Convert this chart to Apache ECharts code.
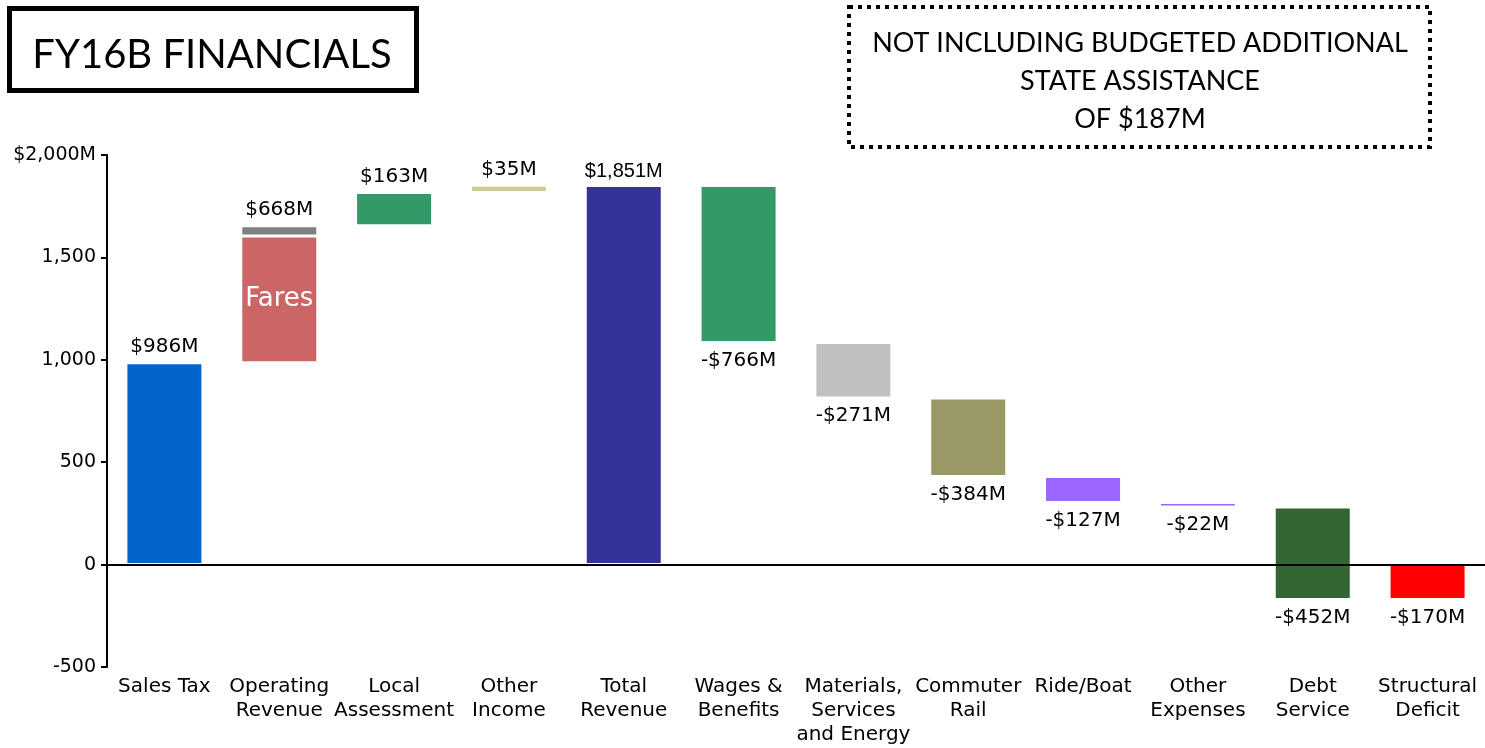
<!DOCTYPE html>
<html>
<head>
<meta charset="utf-8">
<script src="https://cdn.jsdelivr.net/npm/echarts@6/dist/echarts.min.js"></script>
<style>
  html, body { margin: 0; padding: 0; background: #fff; }
  #chart { width: 1485px; height: 748px; }
</style>
</head>
<body>
<div id="chart"></div>
<script>
// FY16B budget walk: revenue sources build up to the total, expenses step down to the deficit.
const categories = [
  'Sales Tax', 'Operating\nRevenue', 'Local\nAssessment', 'Other\nIncome', 'Total\nRevenue',
  'Wages &\nBenefits', 'Materials,\nServices\nand Energy', 'Commuter\nRail', 'Ride/Boat',
  'Other\nExpenses', 'Debt\nService', 'Structural\nDeficit'
];
const changes = [986, 668, 163, 35, 1851, -766, -271, -384, -127, -22, -452, -170];
const isTotal = [false, false, false, false, true, false, false, false, false, false, false, true];
const faresPart = 618;           // fares share of operating revenue ($M)
const valueLabels = [
  '$986M', '$668M', '$163M', '$35M', '$1,851M', '-$766M', '-$271M', '-$384M',
  '-$127M', '-$22M', '-$452M', '-$170M'
];
const barColors = [
  '#0066CC', '#CC6666', '#339966', '#CCCC99', '#333399', '#339966',
  '#C0C0C0', '#999966', '#9966FF', '#9966FF', '#336633', '#FF0000'
];
const otherOperatingColor = '#808080';
const yTicks = [-500, 0, 500, 1000, 1500, 2000];
const yTickLabels = ['-500', '0', '500', '1,000', '1,500', '$2,000M'];

// Floating bar ranges from the running total
let running = 0;
const lows = [], highs = [];
changes.forEach((c, i) => {
  const start = isTotal[i] ? 0 : running;
  const end = start + c;
  lows.push(Math.min(start, end));
  highs.push(Math.max(start, end));
  running = end;
});
const OPERATING = 1;
const TOTAL = 4;

const labelFont = { fontFamily: 'DejaVu Sans', fontSize: 20, color: '#000' };

const baseData = lows.map(v => v);
const mainData = highs.map((h, i) => {
  const value = i === OPERATING ? faresPart : h - lows[i];
  const item = { value: value, itemStyle: { color: barColors[i] } };
  if (i === OPERATING) {
    item.label = { show: true, position: 'inside', formatter: 'Fares',
      fontFamily: 'DejaVu Sans', fontSize: 26, color: '#fff' };
  } else if (changes[i] < 0) {
    item.label = Object.assign({ show: true, position: 'bottom', distance: 8,
      formatter: valueLabels[i] }, labelFont);
  } else {
    item.label = Object.assign({ show: true, position: 'top', distance: 6,
      formatter: valueLabels[i] }, labelFont);
    if (i === TOTAL) { item.label.fontFamily = 'Liberation Sans'; item.label.distance = 4; }
  }
  return item;
});
const extraData = categories.map((c, i) => i === OPERATING
  ? { value: changes[i] - faresPart, itemStyle: { color: otherOperatingColor },
      label: Object.assign({ show: true, position: 'top', distance: 6, formatter: valueLabels[i] }, labelFont) }
  : '-');

const chart = echarts.init(document.getElementById('chart'), null, { renderer: 'canvas' });
chart.setOption({
  animation: false,
  backgroundColor: '#fff',
  grid: { left: 107, right: 0, top: 155, bottom: 81, containLabel: false },
  xAxis: {
    type: 'category',
    data: categories,
    axisLine: { show: false, onZero: false },
    axisTick: { show: false },
    axisLabel: { interval: 0, margin: 8, fontFamily: 'DejaVu Sans', fontSize: 20,
      lineHeight: 24, color: '#000' }
  },
  yAxis: {
    type: 'value',
    min: -500, max: 2000, interval: 500,
    splitLine: { show: false },
    axisLine: { show: true, lineStyle: { color: '#000', width: 2 } },
    axisTick: { show: true, length: 6, lineStyle: { color: '#000', width: 2 } },
    axisLabel: {
      margin: 11, fontFamily: 'DejaVu Sans', fontSize: 19, color: '#000',
      formatter: v => { const k = yTicks.indexOf(v); return k >= 0 ? yTickLabels[k] : ''; }
    }
  },
  series: [
    { name: 'base', type: 'bar', stack: 'walk', stackStrategy: 'all', barWidth: 77,
      data: baseData, itemStyle: { color: 'transparent' }, silent: true },
    { name: 'amount', type: 'bar', stack: 'walk', stackStrategy: 'all', barWidth: 77,
      data: mainData, itemStyle: { borderColor: '#fff', borderWidth: 1.5 } },
    { name: 'other operating', type: 'bar', stack: 'walk', stackStrategy: 'all', barWidth: 77,
      data: extraData, itemStyle: { borderColor: '#fff', borderWidth: 1.5 } },
    { name: 'zero', type: 'line', data: [], z: 10,
      markLine: { silent: true, symbol: ['none', 'none'], label: { show: false },
        lineStyle: { color: '#000', width: 2, type: 'solid' }, data: [{ yAxis: 0 }] } }
  ],
  graphic: [
    { type: 'rect', shape: { x: 9.5, y: 8.5, width: 407, height: 82 },
      style: { fill: '#fff', stroke: '#000', lineWidth: 5 } },
    { type: 'text', x: 212, y: 55,
      style: { text: 'FY16B FINANCIALS', fontFamily: 'Lato', fontSize: 40, fill: '#000',
        align: 'center', verticalAlign: 'middle' } },
    { type: 'rect', shape: { x: 849, y: 7, width: 581, height: 140 },
      style: { fill: '#fff', stroke: '#000', lineWidth: 4, lineDash: [4, 5] } },
    { type: 'text', x: 1140, y: 43,
      style: { text: 'NOT INCLUDING BUDGETED ADDITIONAL', fontFamily: 'Lato', fontSize: 27, fill: '#000',
        align: 'center', verticalAlign: 'middle' } },
    { type: 'text', x: 1140, y: 81,
      style: { text: 'STATE ASSISTANCE', fontFamily: 'Lato', fontSize: 27, fill: '#000',
        align: 'center', verticalAlign: 'middle' } },
    { type: 'text', x: 1140, y: 119,
      style: { text: 'OF $187M', fontFamily: 'Lato', fontSize: 27, fill: '#000',
        align: 'center', verticalAlign: 'middle' } }
  ]
});
</script>
</body>
</html>
